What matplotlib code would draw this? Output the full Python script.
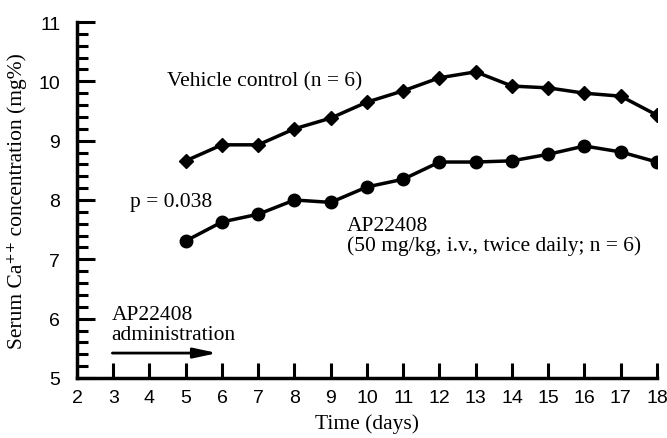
import matplotlib
matplotlib.use('Agg')
import matplotlib.pyplot as plt
import numpy as np

days = np.arange(5, 19)
vehicle = [8.66, 8.93, 8.93, 9.20, 9.38, 9.65, 9.84, 10.06, 10.16, 9.92, 9.89, 9.80, 9.75, 9.43]
ap22408 = [7.31, 7.63, 7.76, 8.00, 7.96, 8.22, 8.35, 8.64, 8.64, 8.66, 8.77, 8.91, 8.81, 8.64]

serif = ['Liberation Serif', 'DejaVu Serif']
sans = 'Liberation Sans'

fig = plt.figure(figsize=(6.67, 4.39), dpi=100)
ax = fig.add_axes([0.1154, 0.1367, 0.8696, 0.8109])

ax.plot(days, vehicle, '-D', color='black', lw=2.5, ms=7.5)
ax.plot(days, ap22408, '-o', color='black', lw=2.5, ms=9)

ax.set_xlim(2, 18)
ax.set_ylim(5, 11)
for s in ('top', 'right'):
    ax.spines[s].set_visible(False)
for s in ('left', 'bottom'):
    ax.spines[s].set_linewidth(2.5)

ax.set_xticks(range(2, 19))
ax.set_yticks(range(5, 12))
ax.set_yticks(np.arange(5, 11.01, 0.2), minor=True)
ax.tick_params(axis='x', direction='in', length=10.5, width=2.2, pad=8,
               labelsize=14)
ax.tick_params(axis='y', which='major', direction='in', length=13, width=2.2,
               pad=12, labelsize=14)
ax.tick_params(axis='y', which='minor', direction='in', length=8, width=2.2)
ax.tick_params(axis='x', which='minor', bottom=False)
for lab in ax.get_xticklabels() + ax.get_yticklabels():
    lab.set_family(sans)
ax.get_xticklines()[0].set_visible(False)

ax.set_xlabel('Time (days)', family=serif, fontsize=15.5, labelpad=5)
ax.set_ylabel('Serum Ca\u207a\u207a concentration (mg%)', family=serif,
              fontsize=15.5, labelpad=8)

ax.text(4.48, 10.0, 'Vehicle control (n = 6)', family=serif, fontsize=15.5,
        va='center')
ax.text(3.46, 7.98, 'p = 0.038', family=serif, fontsize=15.5, va='center')
ax.text(9.44, 7.4, 'AP22408\n(50 mg/kg, i.v., twice daily; n = 6)',
        family=serif, fontsize=15.5, va='center', linespacing=1.05)
ax.text(2.95, 5.9, 'AP22408\nadministration', family=serif, fontsize=15.5,
        va='center', linespacing=1.05)
ax.annotate('', xy=(5.95, 5.42), xytext=(2.9, 5.42),
            arrowprops=dict(arrowstyle='-|>,head_length=1.4,head_width=0.3',
                            color='black', lw=2))

fig.savefig('out.png', dpi=100)
